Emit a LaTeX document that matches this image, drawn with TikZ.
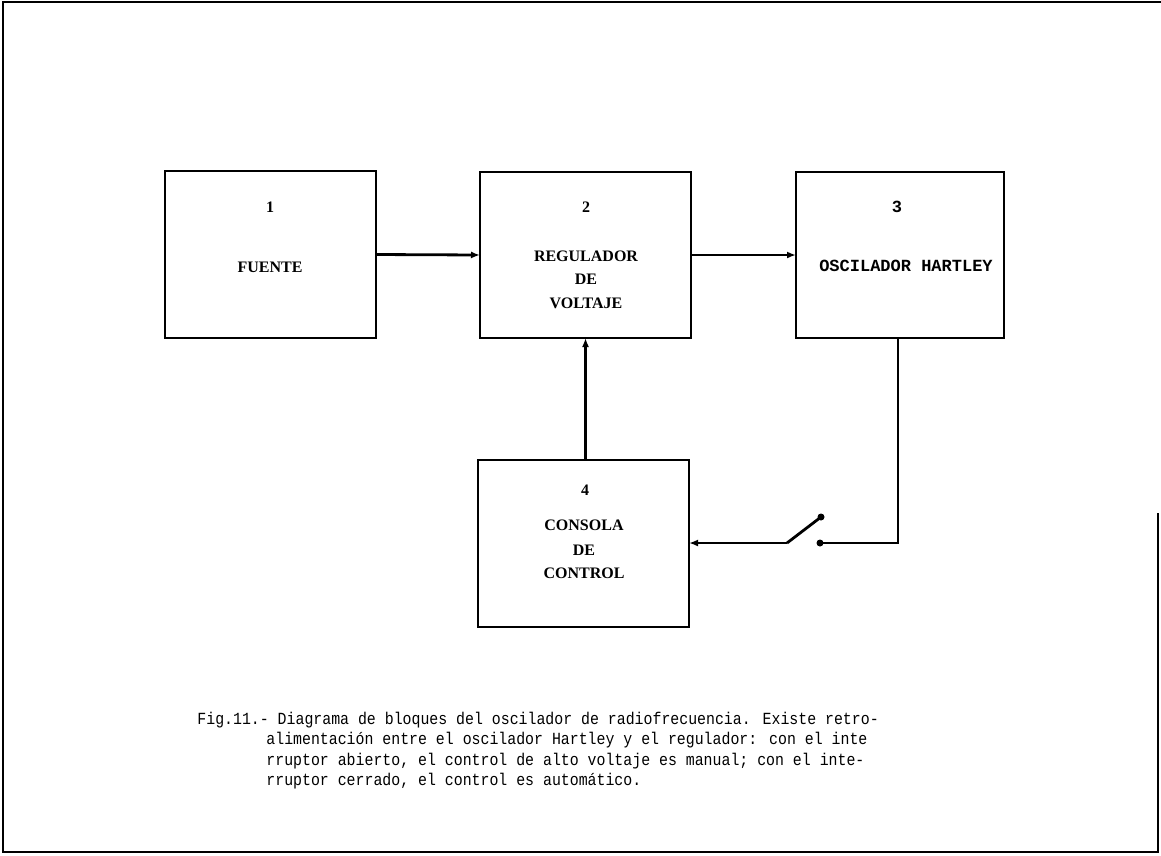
\documentclass[tikz,border=0pt]{standalone}
\usepackage{fontspec}
\setmainfont{Liberation Serif}
\newfontfamily\monof{Liberation Mono}
\newfontfamily\capf[FakeStretch=0.875]{Liberation Mono}
\usetikzlibrary{arrows.meta,calc}
\begin{document}
\begin{tikzpicture}[x=1pt,y=-1pt,
  line width=2.8pt,
  blk/.style={draw, rectangle, inner sep=0pt, outer sep=0pt},
  lbl/.style={font=\bfseries\fontsize{16}{19}\selectfont, inner sep=0pt},
  lblm/.style={font=\monof\bfseries\fontsize{17}{19}\selectfont, inner sep=0pt},
  captxt/.style={font=\capf\fontsize{17}{18}\selectfont, anchor=base west, inner sep=0pt},
  arr/.style={-{Latex[length=9pt,width=7pt]}},
  dotc/.style={circle, fill, inner sep=0pt, minimum size=7pt}]
\useasboundingbox (0,0) rectangle (1161,855);
\fill[white] (0,0) rectangle (1161,855);
% frame
\draw (1158,513) -- (1158,852) -- (3,852) -- (3,2) -- (1161,2);
% blocks
\node[blk, minimum width=211pt, minimum height=167pt] (b1) at (270.5,254.5) {};
\node[blk, minimum width=211pt, minimum height=166pt] (b2) at (585.5,255) {};
\node[blk, minimum width=208pt, minimum height=166pt] (b3) at (900,255) {};
\node[blk, minimum width=211pt, minimum height=167pt] (b4) at (583.5,543.5) {};
% labels
\node[lbl] (n1) at (270,207) {1};
\node[lbl] (t1) at (270,267) {FUENTE};
\node[lbl] (n2) at (586,207) {2};
\node[lbl] (t2a) at (586,256) {REGULADOR};
\node[lbl] (t2b) at (586,279) {DE};
\node[lbl] (t2c) at (586,303) {VOLTAJE};
\node[lblm] (n3) at (897,207) {3};
\node[lblm] (t3) at (906,266) {OSCILADOR HARTLEY};
\node[lbl] (n4) at (585,490) {4};
\node[lbl] (t4a) at (584,525) {CONSOLA};
\node[lbl] (t4b) at (584,550) {DE};
\node[lbl] (t4c) at (584,573) {CONTROL};
% connectors
\draw[arr] (b1.east) -- (b2.west);
\draw[arr] (b2.east) -- (b3.west);
\draw[arr] (b4.north -| b2.south) -- (b2.south);
% switch
\coordinate (sw1) at (820,543);
\coordinate (sw2) at (787,543);
\coordinate (sw3) at (821,517);
\coordinate (b3d) at (898,338);
\draw (b3d) |- (sw1);
\node[dotc] (d1) at (sw1) {};
\node[dotc] (d2) at (sw3) {};
\draw (sw2) -- (d2.center);
\draw[arr] (sw2) -- (b4.east |- sw2);
% caption
\node[captxt] (c1) at (196,724) {Fig.11.- Diagrama de bloques del oscilador de radiofrecuencia. Existe retro-};
\node[captxt] (c2) at (265,744.5) {alimentación entre el oscilador Hartley y el regulador: con el inte};
\node[captxt] (c3) at (265,765) {rruptor abierto, el control de alto voltaje es manual; con el inte-};
\node[captxt] (c4) at (265,785.5) {rruptor cerrado, el control es automático.};
\end{tikzpicture}
\end{document}
